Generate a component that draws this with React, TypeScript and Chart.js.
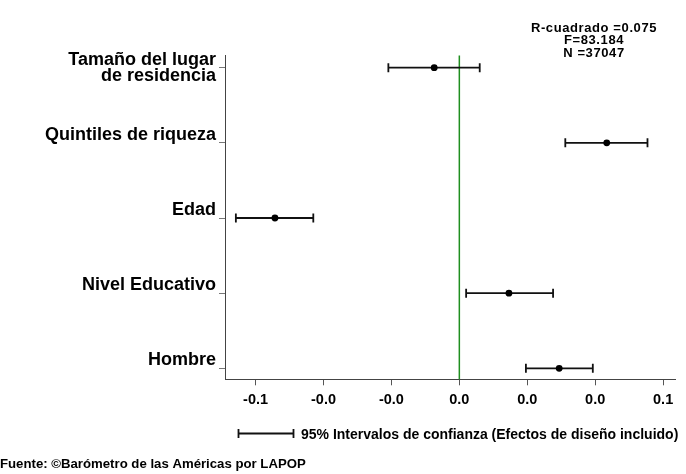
import React, { useEffect, useRef } from 'react';
import { Chart, registerables } from 'chart.js';

Chart.register(...registerables);

const categories: string[][] = [
  ['Tamaño del lugar', 'de residencia'],
  ['Quintiles de riqueza'],
  ['Edad'],
  ['Nivel Educativo'],
  ['Hombre'],
];
const coefficients = [-0.0074, 0.0434, -0.0543, 0.0146, 0.0294];
const ciLower = [-0.0209, 0.0312, -0.0658, 0.002, 0.0196];
const ciUpper = [0.006, 0.0554, -0.043, 0.0276, 0.0393];
const xTickValues = [-0.06, -0.04, -0.02, 0, 0.02, 0.04, 0.06];
const xTickLabels = ['-0.1', '-0.0', '-0.0', '0.0', '0.0', '0.0', '0.1'];
const statsLines = ['R-cuadrado =0.075', 'F=83.184', 'N =37047'];
const legendLabel = '95% Intervalos de confianza (Efectos de diseño incluido)';
const sourceNote = 'Fuente: ©Barómetro de las Américas por LAPOP';

const FONT = '"Liberation Sans", Arial, Helvetica, sans-serif';

const overlayPlugin = {
  id: 'overlay',
  beforeDatasetsDraw(chart: any) {
    const { ctx, chartArea, scales } = chart;
    const xs = scales.x;
    const ys = scales.y;
    ctx.save();
    // zero reference line
    const x0 = xs.getPixelForValue(0);
    ctx.strokeStyle = '#1f8f1f';
    ctx.lineWidth = 1.5;
    ctx.beginPath();
    ctx.moveTo(x0, chartArea.top);
    ctx.lineTo(x0, chartArea.bottom);
    ctx.stroke();
    // error bars
    ctx.strokeStyle = '#111';
    ctx.lineWidth = 1.8;
    for (let i = 0; i < coefficients.length; i++) {
      const y = ys.getPixelForValue(i);
      const a = xs.getPixelForValue(ciLower[i]);
      const b = xs.getPixelForValue(ciUpper[i]);
      ctx.beginPath();
      ctx.moveTo(a, y);
      ctx.lineTo(b, y);
      ctx.moveTo(a, y - 4.5);
      ctx.lineTo(a, y + 4.5);
      ctx.moveTo(b, y - 4.5);
      ctx.lineTo(b, y + 4.5);
      ctx.stroke();
    }
    ctx.restore();
  },
  afterDraw(chart: any) {
    const { ctx, scales } = chart;
    const ys = scales.y;
    ctx.save();
    ctx.fillStyle = '#000';
    // category labels
    ctx.font = `bold 18px ${FONT}`;
    ctx.textAlign = 'right';
    ctx.textBaseline = 'alphabetic';
    categories.forEach((lines, i) => {
      const y = ys.getPixelForValue(i);
      lines.forEach((t, k) => {
        ctx.fillText(t, 216, y - 3 + k * 16);
      });
    });
    // stats
    ctx.font = `bold 13px ${FONT}`;
    ctx.textAlign = 'center';
    (ctx as any).letterSpacing = '0.6px';
    statsLines.forEach((t, k) => {
      ctx.fillText(t, 594, 31.5 + k * 12.5);
    });
    (ctx as any).letterSpacing = '0px';
    // legend
    ctx.strokeStyle = '#111';
    ctx.lineWidth = 1.8;
    ctx.beginPath();
    ctx.moveTo(238.5, 433.5);
    ctx.lineTo(293.5, 433.5);
    ctx.moveTo(238.5, 429);
    ctx.lineTo(238.5, 438);
    ctx.moveTo(293.5, 429);
    ctx.lineTo(293.5, 438);
    ctx.stroke();
    ctx.textAlign = 'left';
    ctx.font = `bold 14px ${FONT}`;
    ctx.fillText(legendLabel, 301, 438.5);
    // source
    ctx.font = `bold 13.2px ${FONT}`;
    ctx.fillText(sourceNote, 0, 468);
    ctx.restore();
  },
};

export default function App() {
  const ref = useRef<HTMLCanvasElement | null>(null);
  useEffect(() => {
    if (!ref.current) return;
    const chart = new Chart(ref.current, {
      type: 'scatter',
      data: {
        datasets: [
          {
            data: coefficients.map((v, i) => ({ x: v, y: i })),
            pointRadius: 3.4,
            pointHoverRadius: 3.4,
            backgroundColor: '#000',
            borderColor: '#000',
            borderWidth: 0,
          },
        ],
      },
      options: {
        animation: false,
        responsive: false,
        maintainAspectRatio: false,
        devicePixelRatio: 1,
        layout: { padding: { left: 0, right: 11, top: 55.5, bottom: 0 } },
        plugins: { legend: { display: false }, tooltip: { enabled: false } },
        scales: {
          x: {
            type: 'linear',
            min: -0.069,
            max: 0.0635,
            afterBuildTicks: (ax: any) => {
              ax.ticks = xTickValues.map((value) => ({ value }));
            },
            afterFit: (s: any) => {
              s.height = 474 - 379.3;
            },
            ticks: {
              callback: (_v: any, i: number) => xTickLabels[i],
              font: { family: FONT, size: 14.5, weight: 'bold' },
              color: '#000',
              padding: 6,
              maxRotation: 0,
              autoSkip: false,
            },
            grid: { drawOnChartArea: false, drawTicks: true, tickLength: 6, color: '#555' },
            border: { color: '#444', width: 1 },
          },
          y: {
            type: 'linear',
            reverse: true,
            min: -0.162,
            max: 4.146,
            afterBuildTicks: (ax: any) => {
              ax.ticks = categories.map((_c, i) => ({ value: i }));
            },
            afterFit: (s: any) => {
              s.width = 225;
            },
            ticks: { display: false },
            grid: { drawOnChartArea: false, drawTicks: true, tickLength: 6, color: '#777' },
            border: { color: '#444', width: 1 },
          },
        },
      } as any,
      plugins: [overlayPlugin],
    });
    return () => chart.destroy();
  }, []);
  return (
    <div style={{ position: 'absolute', left: 0, top: 0, width: 686, height: 474, background: '#fff' }}>
      <canvas ref={ref} width={686} height={474} style={{ width: 686, height: 474 }} />
    </div>
  );
}
